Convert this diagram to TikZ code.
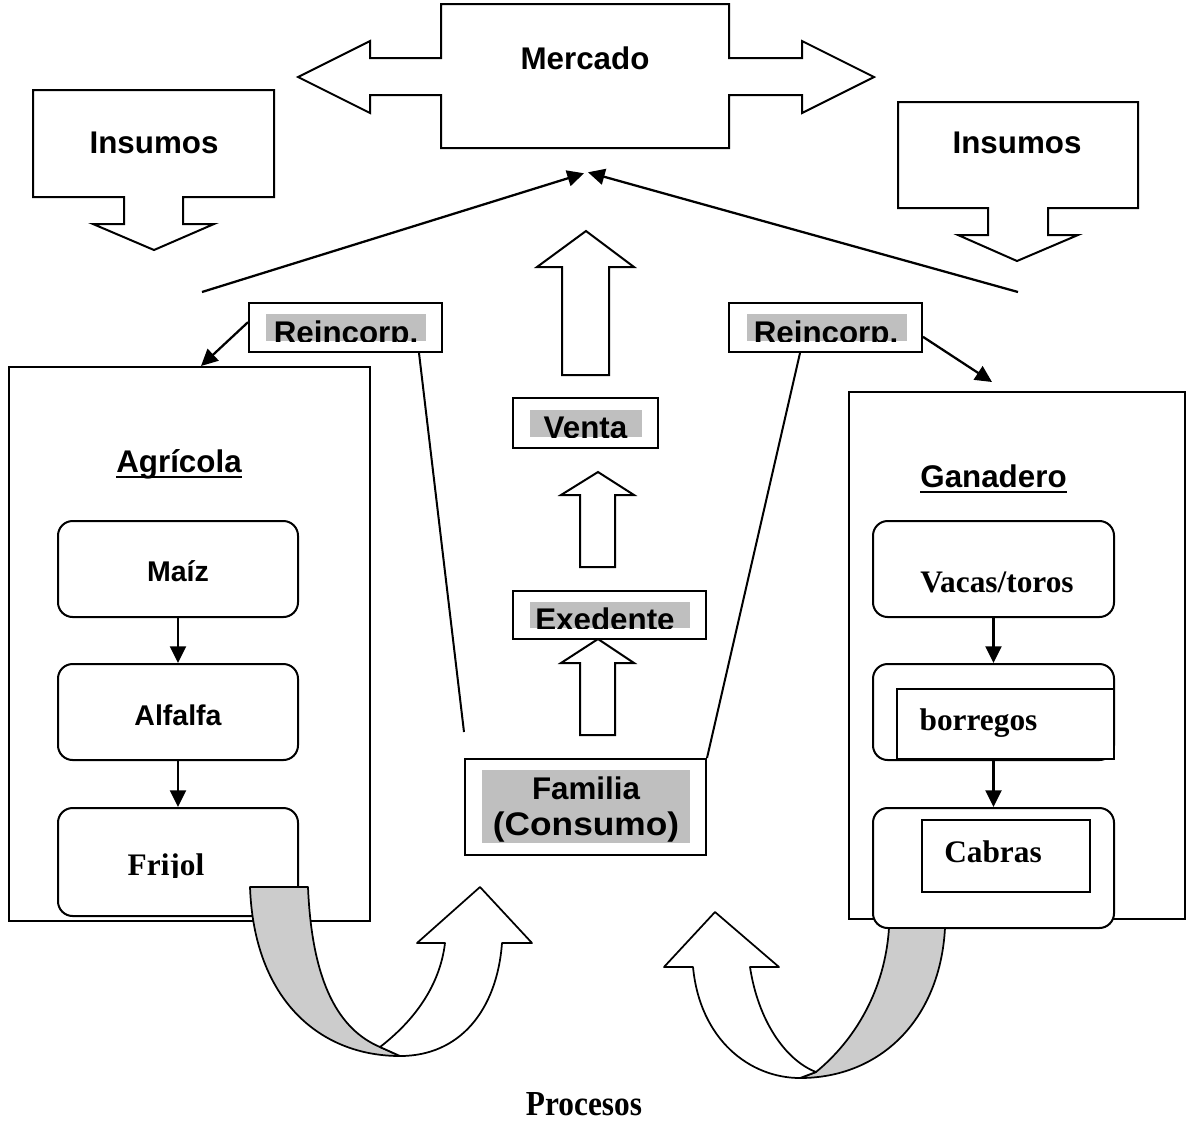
\documentclass[tikz,border=0pt]{standalone}
\usepackage{fontspec}
\setmainfont{Liberation Serif}
\newfontfamily\arialf{Liberation Sans}
\usetikzlibrary{arrows.meta,fit,calc}
\tikzset{
  ol/.style={draw=black, line width=1.5pt, line join=miter, fill=white},
  boxn/.style={draw=black, line width=1.5pt, inner sep=0pt, fill=white},
  rbox/.style={boxn, rounded corners=11pt},
  hl/.style={fill=black!25, draw=none},
  lbl/.style={inner sep=0pt, anchor=base, font=\arialf\bfseries\fontsize{23.5}{28}\selectfont},
  lbls/.style={lbl, font=\arialf\bfseries\fontsize{21.4}{26}\selectfont},
  tlbl/.style={inner sep=0pt, anchor=base, font=\rmfamily\bfseries\fontsize{23.5}{28}\selectfont},
  arr/.style={line width=1.7pt, -{Triangle[length=12.5pt,width=12pt]}},
  conn/.style={line width=1.5pt},
  ribbon/.style={draw=black, line width=1.3pt, line join=round},
  uline/.style={line width=1.7pt},
}
\begin{document}
\begin{tikzpicture}[x=0.75pt,y=-0.75pt]
\fill[white] (0,0) rectangle (1188,1122);
\useasboundingbox (0,0) rectangle (1188,1122);

% ---------- Mercado double arrow ----------
\draw[ol] (298,77) -- (370,41) -- (370,58) -- (441,58) -- (441,4) -- (729,4) -- (729,58)
  -- (802,58) -- (802,41) -- (874,77) -- (802,113) -- (802,95) -- (729,95) -- (729,148)
  -- (441,148) -- (441,95) -- (370,95) -- (370,113) -- cycle;
\node[fit={(441,4) (729,148)}, inner sep=0pt] (merc) {};
\node[lbl] (mercT) at (585,69) {Mercado};

% ---------- Insumos (left) ----------
\draw[ol] (33,90) -- (274,90) -- (274,197) -- (183,197) -- (183,224) -- (214,224) -- (154,250)
  -- (93,224) -- (124,224) -- (124,197) -- (33,197) -- cycle;
\node[lbl] (insL) at (154,153) {Insumos};

% ---------- Insumos (right) ----------
\draw[ol] (898,102) -- (1138,102) -- (1138,208) -- (1048,208) -- (1048,235) -- (1078,235) -- (1017,261)
  -- (958,235) -- (988,235) -- (988,208) -- (898,208) -- cycle;
\node[lbl] (insR) at (1017,153) {Insumos};

% ---------- converging arrows to Mercado ----------
\coordinate (cl) at (202,292);
\coordinate (cr) at (1018,292);
\draw[arr] (cl) -- ($(merc.south)+(-1,25)$);
\draw[arr] (cr) -- ($(merc.south)+(3,24)$);

% ---------- hollow up arrows (centre) ----------
\draw[ol] (562,375) -- (562,267) -- (537,267) -- (586,231) -- (634,267) -- (609,267) -- (609,375) -- cycle;
\draw[ol] (580,567) -- (580,495) -- (561,495) -- (598,472) -- (634,495) -- (615,495) -- (615,567) -- cycle;
\draw[ol] (580,735) -- (580,663) -- (561,663) -- (598,639) -- (634,663) -- (615,663) -- (615,735) -- cycle;

% ---------- Agricola ----------
\node[boxn, fill=none, fit={(9,367) (370,921)}] (agri) {};
\node[lbl] (agT) at (179,472) {Agrícola};
\draw[uline] ($(agT.base west)+(0,5)$) -- ($(agT.base east)+(0,5)$);
\node[rbox, fit={(58,521) (298,617)}] (maiz) {};
\node[lbls] (maizT) at (178,581) {Maíz};
\node[rbox, fit={(58,664) (298,760)}] (alf) {};
\node[lbls] (alfT) at (178,725) {Alfalfa};
\node[rbox, fit={(58,808) (298,916)}] (frij) {};
\begin{scope}
  \clip (60,810) rectangle (296,877.5);
  \node[tlbl] (frijT) at (166,875) {Frijol};
\end{scope}
\draw[arr] (maiz.south) -- (alf.north);
\draw[arr] (alf.south) -- (frij.north);

% ---------- Ganadero ----------
\node[boxn, fill=none, fit={(849,392) (1185,919)}] (gan) {};
\node[lbl] (ganT) at (993.5,487) {Ganadero};
\draw[uline] ($(ganT.base west)+(0,5)$) -- ($(ganT.base east)+(0,5)$);
\node[rbox, fit={(873,521) (1114,617)}] (vac) {};
\node[tlbl] (vacT) at (997,592) {Vacas/toros};
\node[rbox, fit={(873,664) (1114,760)}] (borr) {};
\node[boxn, fit={(897,689) (1114,759)}] (borrIn) {};
\node[tlbl] (borrT) at (978.5,730) {borregos};
\node[rbox, fit={(873,808) (1114,928)}] (cab) {};
\node[boxn, fit={(922,820) (1090,892)}] (cabIn) {};
\node[tlbl] (cabT) at (993,862) {Cabras};
\draw[arr] (vac.south) -- (borr.north);
\draw[arr] (borr.south) -- (cab.north);

% ---------- Reincorp. boxes ----------
\node[boxn, fit={(249,303) (442,352)}] (rincL) {};
\fill[hl] (266,314) rectangle (426,341);
\begin{scope}
  \clip (266,314) rectangle (426,341);
  \node[lbl] (rincLT) at (346,343) {Reincorp.};
\end{scope}
\node[boxn, fit={(729,303) (922,352)}] (rincR) {};
\fill[hl] (747,314) rectangle (907,341);
\begin{scope}
  \clip (747,314) rectangle (907,341);
  \node[lbl] (rincRT) at (826,343) {Reincorp.};
\end{scope}
\draw[arr] ([yshift=4pt]rincL.west) -- ($(agri.north west)+(193,0)$);
\draw[arr] ([yshift=-7pt]rincR.east) -- ($(gan.north west)+(144,-9)$);

% ---------- Venta / Exedente / Familia ----------
\node[boxn, fit={(513,398) (658,448)}] (venta) {};
\fill[hl] (530,410) rectangle (642,437);
\begin{scope}
  \clip (530,410) rectangle (642,437);
  \node[lbl] (ventaT) at (585.5,438) {Venta};
\end{scope}
\node[boxn, fit={(513,591) (706,639)}] (exe) {};
\fill[hl] (530,602) rectangle (690,628);
\begin{scope}
  \clip (530,602) rectangle (690,628);
  \node[lbl] (exeT) at (605,630) {Exedente};
\end{scope}
\node[boxn, fit={(465,759) (706,855)}] (fam) {};
\fill[hl] (482,770) rectangle (690,843);
\node[lbl] (famT1) at (586,799) {Familia};
\node[lbl, font=\arialf\bfseries\fontsize{24.5}{29}\selectfont] (famT2) at (586,835) {\scalebox{1.08}[1]{(Consumo)}};

\draw[conn] ($(rincL.south east)+(-24,0)$) -- ($(fam.north west)+(0,-26)$);
\draw[conn] ($(rincR.south west)+(72,0)$) -- (fam.north east);

% ---------- ribbons ----------
\draw[ribbon, fill=black!20] (250,887) -- (308,887) .. controls (312,985) and (340,1030) .. (380,1047)
  -- (400,1056) .. controls (320,1056) and (254,1000) .. (250,887) -- cycle;
\draw[ribbon, fill=white] (380,1047) .. controls (415,1020) and (440,985) .. (445,943) -- (417,943)
  -- (480,887) -- (532,943) -- (502,943) .. controls (497,1010) and (460,1056) .. (400,1056) -- cycle;

\draw[ribbon, fill=black!20] (889,928) .. controls (885,990) and (855,1040) .. (816,1072)
  -- (800,1078) .. controls (880,1078) and (940,1020) .. (945,928) -- cycle;
\draw[ribbon, fill=white] (816,1072) .. controls (785,1060) and (758,1020) .. (750,967) -- (779,967)
  -- (715,912) -- (664,967) -- (693,967) .. controls (700,1040) and (750,1078) .. (800,1078) -- cycle;

\node[tlbl] (proc) at (584,1115) {\scalebox{1}[1.12]{Procesos}};
\end{tikzpicture}
\end{document}
